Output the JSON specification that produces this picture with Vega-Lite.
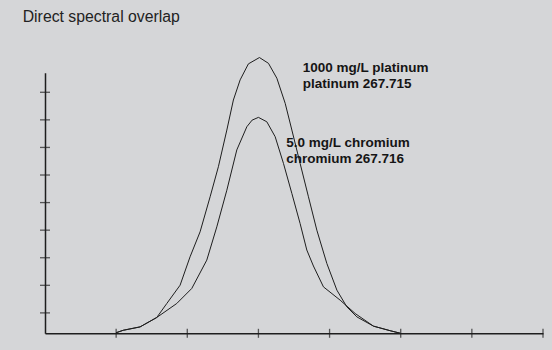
{
  "$schema": "https://vega.github.io/schema/vega-lite/v6.json",
  "width": 498,
  "height": 260.6,
  "autosize": "none",
  "padding": {"left": 45, "top": 72.7, "right": 9, "bottom": 16.7},
  "background": "#d5d6d8",
  "title": {
    "text": "Direct spectral overlap",
    "anchor": "start",
    "frame": "group",
    "dx": -22.3,
    "offset": 18,
    "baseline": "alphabetic",
    "font": "Liberation Sans",
    "fontSize": 15.8,
    "fontWeight": "normal",
    "color": "#222222"
  },
  "config": {"view": {"stroke": null}},
  "datasets": {
    "curves": [
      {"series": "platinum", "x": 0.999, "y": -0.72},
      {"series": "platinum", "x": 1.10, "y": -0.63},
      {"series": "platinum", "x": 1.336, "y": -0.508},
      {"series": "platinum", "x": 1.571, "y": -0.167},
      {"series": "platinum", "x": 1.712, "y": 0.341},
      {"series": "platinum", "x": 1.899, "y": 1.005},
      {"series": "platinum", "x": 2.039, "y": 2.033},
      {"series": "platinum", "x": 2.180, "y": 2.94},
      {"series": "platinum", "x": 2.321, "y": 4.21},
      {"series": "platinum", "x": 2.437, "y": 5.30},
      {"series": "platinum", "x": 2.556, "y": 6.63},
      {"series": "platinum", "x": 2.648, "y": 7.72},
      {"series": "platinum", "x": 2.743, "y": 8.45},
      {"series": "platinum", "x": 2.859, "y": 9.03},
      {"series": "platinum", "x": 3.014, "y": 9.26},
      {"series": "platinum", "x": 3.141, "y": 9.05},
      {"series": "platinum", "x": 3.259, "y": 8.51},
      {"series": "platinum", "x": 3.376, "y": 7.60},
      {"series": "platinum", "x": 3.470, "y": 6.63},
      {"series": "platinum", "x": 3.586, "y": 5.42},
      {"series": "platinum", "x": 3.703, "y": 4.21},
      {"series": "platinum", "x": 3.821, "y": 3.00},
      {"series": "platinum", "x": 3.962, "y": 1.79},
      {"series": "platinum", "x": 4.103, "y": 0.824},
      {"series": "platinum", "x": 4.243, "y": 0.218},
      {"series": "platinum", "x": 4.384, "y": -0.145},
      {"series": "platinum", "x": 4.617, "y": -0.48},
      {"series": "platinum", "x": 4.852, "y": -0.646},
      {"series": "platinum", "x": 4.993, "y": -0.737},
      {"series": "chromium", "x": 0.999, "y": -0.72},
      {"series": "chromium", "x": 1.10, "y": -0.63},
      {"series": "chromium", "x": 1.336, "y": -0.508},
      {"series": "chromium", "x": 1.571, "y": -0.167},
      {"series": "chromium", "x": 1.852, "y": 0.341},
      {"series": "chromium", "x": 2.063, "y": 0.886},
      {"series": "chromium", "x": 2.274, "y": 1.913},
      {"series": "chromium", "x": 2.415, "y": 3.12},
      {"series": "chromium", "x": 2.556, "y": 4.45},
      {"series": "chromium", "x": 2.696, "y": 5.91},
      {"series": "chromium", "x": 2.837, "y": 6.75},
      {"series": "chromium", "x": 2.911, "y": 6.99},
      {"series": "chromium", "x": 3.0, "y": 7.09},
      {"series": "chromium", "x": 3.118, "y": 6.93},
      {"series": "chromium", "x": 3.235, "y": 6.39},
      {"series": "chromium", "x": 3.352, "y": 5.42},
      {"series": "chromium", "x": 3.470, "y": 4.33},
      {"series": "chromium", "x": 3.586, "y": 3.24},
      {"series": "chromium", "x": 3.680, "y": 2.28},
      {"series": "chromium", "x": 3.773, "y": 1.70},
      {"series": "chromium", "x": 3.914, "y": 0.944},
      {"series": "chromium", "x": 4.149, "y": 0.461},
      {"series": "chromium", "x": 4.360, "y": -0.022},
      {"series": "chromium", "x": 4.617, "y": -0.48},
      {"series": "chromium", "x": 4.852, "y": -0.646},
      {"series": "chromium", "x": 4.993, "y": -0.737}
    ],
    "yticks": [{"v": 0}, {"v": 1}, {"v": 2}, {"v": 3}, {"v": 4}, {"v": 5}, {"v": 6}, {"v": 7}, {"v": 8}],
    "xticks": [{"v": 1}, {"v": 2}, {"v": 3}, {"v": 4}, {"v": 5}, {"v": 6}, {"v": 7}],
    "labels": [
      {"text": "1000 mg/L platinum", "x": 3.624, "y": 8.75},
      {"text": "platinum 267.715", "x": 3.624, "y": 8.145},
      {"text": "5.0 mg/L chromium", "x": 3.39, "y": 6.025},
      {"text": "chromium 267.716", "x": 3.39, "y": 5.452}
    ]
  },
  "layer": [
    {
      "data": {"name": "curves"},
      "mark": {"type": "line", "color": "#1e1e1e", "strokeWidth": 1, "clip": false},
      "encoding": {
        "x": {"field": "x", "type": "quantitative", "scale": {"domain": [0, 7], "nice": false, "zero": false},
          "axis": {"ticks": false, "labels": false, "grid": false, "title": null, "domainColor": "#1e1e1e", "domainWidth": 1.5}},
        "y": {"field": "y", "type": "quantitative", "scale": {"domain": [-0.74, 8.71], "nice": false, "zero": false},
          "axis": {"ticks": false, "labels": false, "grid": false, "title": null, "domainColor": "#1e1e1e", "domainWidth": 1.5}},
        "detail": {"field": "series"}
      }
    },
    {
      "data": {"name": "yticks"},
      "mark": {"type": "tick", "orient": "horizontal", "color": "#1e1e1e", "size": 10, "thickness": 1.3},
      "encoding": {
        "x": {"datum": 0, "type": "quantitative"},
        "y": {"field": "v", "type": "quantitative"}
      }
    },
    {
      "data": {"name": "xticks"},
      "mark": {"type": "tick", "orient": "vertical", "color": "#1e1e1e", "size": 9, "thickness": 1.3},
      "encoding": {
        "x": {"field": "v", "type": "quantitative"},
        "y": {"datum": -0.74, "type": "quantitative"}
      }
    },
    {
      "data": {"name": "labels"},
      "mark": {"type": "text", "align": "left", "baseline": "alphabetic", "font": "Liberation Sans", "fontSize": 13.5, "fontWeight": "bold", "color": "#151515"},
      "encoding": {
        "x": {"field": "x", "type": "quantitative"},
        "y": {"field": "y", "type": "quantitative"},
        "text": {"field": "text"}
      }
    }
  ]
}
